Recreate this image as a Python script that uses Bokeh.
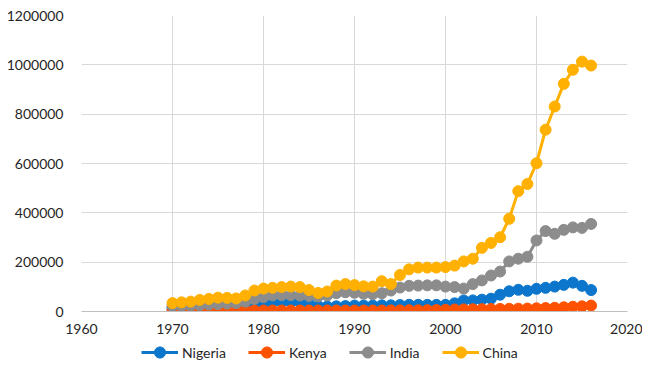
from bokeh.plotting import figure
from bokeh.layouts import column
from bokeh.models import FixedTicker, BasicTickFormatter, Legend, LegendItem, Range1d
from bokeh.embed import file_html
from bokeh.resources import INLINE

years = list(range(1970, 2017))

nigeria = [12000, 13000, 14000, 15000, 17000, 18000, 20000, 22000, 25000, 28000,
           31000, 38000, 38000, 38000, 38000, 31000, 22000, 20000, 21000, 22000,
           24000, 24000, 24000, 25000, 25000, 26000, 27000, 27000, 27000, 27000,
           27000, 33000, 45000, 45000, 48000, 52000, 68000, 82000, 88000, 84000,
           92000, 96000, 101000, 108000, 117000, 104000, 87000]

kenya = [3000, 3000, 3000, 3000, 3500, 3500, 3500, 3500, 4000, 4000,
         4000, 4000, 4000, 4000, 4000, 4000, 4000, 4000, 4000, 4000,
         4000, 4000, 4000, 4000, 4500, 4500, 5000, 5000, 5500, 6000,
         7000, 8000, 8500, 9000, 9500, 10000, 10500, 11000, 11500, 12000,
         13000, 14000, 15000, 17000, 19000, 21000, 24000]

india = [22000, 23000, 24000, 26000, 28000, 30000, 32000, 34000, 40000, 51000,
         58000, 65000, 66000, 66000, 65000, 63000, 61000, 65000, 74000, 78000,
         76000, 72000, 70000, 74000, 85000, 97000, 104000, 105000, 106000, 106000,
         101000, 99000, 93000, 111000, 126000, 146000, 162000, 203000, 214000, 222000,
         288000, 326000, 315000, 331000, 341000, 339000, 355000]

china = [34000, 37000, 40000, 47000, 51000, 56000, 55000, 53000, 65000, 85000,
         93000, 96000, 99000, 101000, 99000, 87000, 75000, 81000, 105000, 111000,
         107000, 102000, 101000, 123000, 111000, 148000, 171000, 178000, 178000, 178000,
         180000, 186000, 203000, 214000, 258000, 278000, 301000, 376000, 488000, 517000,
         601000, 737000, 831000, 923000, 980000, 1013000, 997000]

series_names = ["Nigeria", "Kenya", "India", "China"]
series_values = [nigeria, kenya, india, china]
series_colors = ["#0B76CC", "#FF5200", "#8C8C8C", "#FFB000"]

x_ticks = [1960, 1970, 1980, 1990, 2000, 2010, 2020]
y_ticks = [0, 200000, 400000, 600000, 800000, 1000000, 1200000]

FONT = "Lato"

p = figure(width=642, height=341, output_backend="svg", toolbar_location=None,
           x_range=Range1d(1960, 2020), y_range=Range1d(0, 1200000))
p.min_border_left = 81
p.min_border_right = 15
p.min_border_top = 15
p.min_border_bottom = 30
p.outline_line_color = None
p.background_fill_color = "white"
p.border_fill_color = "white"

p.xaxis.ticker = FixedTicker(ticks=x_ticks)
p.yaxis.ticker = FixedTicker(ticks=y_ticks)
p.yaxis.formatter = BasicTickFormatter(use_scientific=False)
for ax in (p.xaxis[0], p.yaxis[0]):
    ax.major_tick_line_color = None
    ax.minor_tick_line_color = None
    ax.major_tick_out = 0
    ax.major_tick_in = 0
    ax.major_label_text_font = FONT
    ax.major_label_text_font_size = "14px"
    ax.major_label_text_color = "#262626"
p.xaxis.axis_line_color = "#BFBFBF"
p.xaxis.axis_line_width = 1
p.yaxis.axis_line_color = None
p.xaxis.major_label_standoff = 12
p.yaxis.major_label_standoff = 18

p.xgrid.ticker = FixedTicker(ticks=x_ticks)
p.ygrid.ticker = FixedTicker(ticks=y_ticks)
p.xgrid.grid_line_color = "#D9D9D9"
p.ygrid.grid_line_color = "#D9D9D9"

for name, vals, col in zip(series_names, series_values, series_colors):
    p.line(years, vals, line_color=col, line_width=3)
    p.scatter(years, vals, size=11, fill_color=col, line_color=col, marker="circle")

# legend strip below the chart (renderers hold a single NaN so nothing is plotted)
lg = figure(width=642, height=45, output_backend="svg", toolbar_location=None,
            x_range=Range1d(0, 1), y_range=Range1d(0, 1),
            x_axis_type=None, y_axis_type=None)
lg.min_border_left = 81
lg.min_border_right = 15
lg.min_border_top = 0
lg.min_border_bottom = 0
lg.outline_line_color = None
lg.grid.visible = False

nan = float("nan")
items = []
for name, col in zip(series_names, series_colors):
    r1 = lg.line([nan], [nan], line_color=col, line_width=3)
    r2 = lg.scatter([nan], [nan], size=11, fill_color=col, line_color=col, marker="circle")
    items.append(LegendItem(label=name, renderers=[r1, r2]))

legend = Legend(items=items, orientation="horizontal", location=(60, 20))
legend.label_text_font = FONT
legend.label_text_font_size = "14px"
legend.label_text_color = "#262626"
legend.glyph_width = 37
legend.glyph_height = 28
legend.spacing = 22
legend.label_standoff = 4
legend.border_line_color = None
legend.background_fill_alpha = 0
legend.padding = 0
legend.margin = 0
lg.add_layout(legend, "center")

layout = column(p, lg)
open("out.html", "w").write(file_html(layout, INLINE))
